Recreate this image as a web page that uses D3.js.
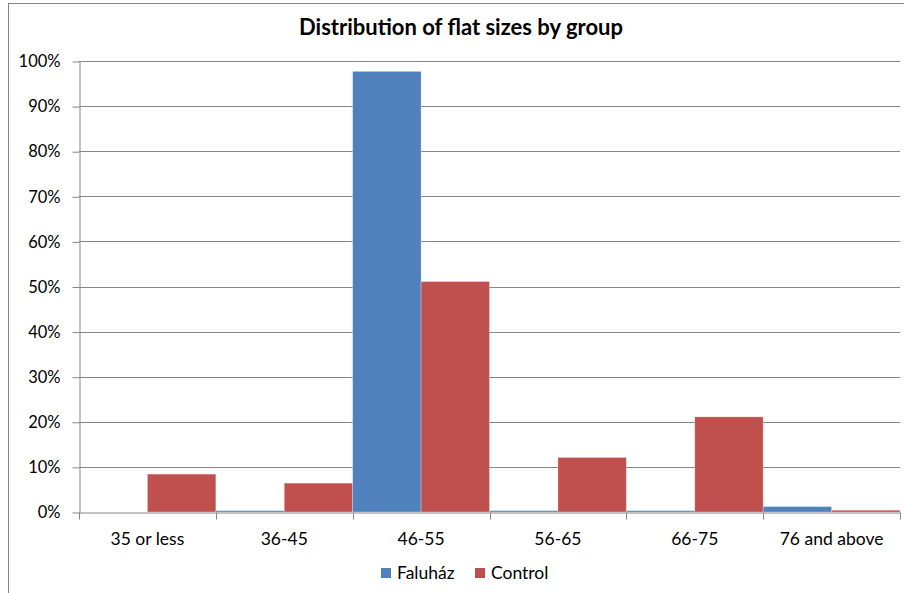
<!DOCTYPE html>
<html>
<head>
<meta charset="utf-8">
<script src="https://cdn.jsdelivr.net/npm/d3@7"></script>
<style>
  html, body { margin: 0; padding: 0; background: #fff; }
  svg { display: block; }
  text { font-family: Lato, "Open Sans", sans-serif; fill: #000; }
</style>
</head>
<body>
<svg id="chart" width="904" height="593"></svg>
<script>
// Flat-size bands and share of flats per group
const categories = ["35 or less", "36-45", "46-55", "56-65", "66-75", "76 and above"];
const seriesNames = ["Faluház", "Control"];
const faluhaz = [0, 0.003, 0.977, 0.003, 0.003, 0.012];
const control = [0.084, 0.064, 0.511, 0.121, 0.211, 0.004];
const yTicks = [0, 0.1, 0.2, 0.3, 0.4, 0.5, 0.6, 0.7, 0.8, 0.9, 1.0];
const colors = ["#4f81bd", "#c0504d"];

const svg = d3.select("#chart");
const W = 904, H = 593;
const plot = { left: 79, right: 900, top: 61, bottom: 512 };

// Outer chart frame
svg.append("rect")
  .attr("x", 8.5).attr("y", 3.5)
  .attr("width", W + 20).attr("height", H + 20)
  .attr("fill", "#fff").attr("stroke", "#868686").attr("stroke-width", 1);

// Title
svg.append("text")
  .attr("x", 461).attr("y", 35)
  .attr("text-anchor", "middle")
  .attr("font-size", 22).attr("font-weight", "bold")
  .text("Distribution of flat sizes by group");

const x = d3.scaleBand().domain(categories).range([plot.left, plot.right]).padding(0);
const xInner = d3.scaleBand().domain(seriesNames).range([0, x.bandwidth()]).padding(0);
const y = d3.scaleLinear().domain([0, 1]).range([plot.bottom, plot.top]);

// Horizontal gridlines
svg.append("g")
  .selectAll("line")
  .data(yTicks.filter(d => d > 0))
  .join("line")
  .attr("x1", plot.left).attr("x2", plot.right)
  .attr("y1", d => Math.round(y(d)) + 0.5).attr("y2", d => Math.round(y(d)) + 0.5)
  .attr("stroke", "#868686").attr("stroke-width", 1);

// Bars
const rows = categories.map((c, i) => ({ cat: c, values: [faluhaz[i], control[i]] }));
svg.append("g")
  .selectAll("g")
  .data(rows)
  .join("g")
  .attr("transform", d => `translate(${x(d.cat)},0)`)
  .selectAll("rect")
  .data(d => d.values.map((v, j) => ({ name: seriesNames[j], v, j })))
  .join("rect")
  .attr("x", d => xInner(d.name))
  .attr("width", xInner.bandwidth())
  .attr("y", d => y(d.v))
  .attr("height", d => y(0) - y(d.v))
  .attr("fill", d => colors[d.j])
  .attr("stroke", "rgba(255,255,255,0.35)")
  .attr("stroke-width", 0.8);

// Y axis
const yAxis = d3.axisLeft(y)
  .tickValues(yTicks)
  .tickFormat(d3.format(".0%"))
  .tickSizeInner(7).tickSizeOuter(0).tickPadding(12);
const gy = svg.append("g")
  .attr("transform", `translate(${plot.left + 0.5},0.5)`)
  .call(yAxis);
gy.select(".domain").attr("stroke", "#868686");
gy.selectAll(".tick line").attr("stroke", "#868686");
gy.selectAll(".tick text").attr("font-size", 16.5).attr("font-family", "Lato, sans-serif").attr("fill", "#000");

// X axis
const xAxis = d3.axisBottom(x).tickSize(0).tickPadding(0);
const gx = svg.append("g")
  .attr("transform", `translate(0,${plot.bottom + 0.5})`)
  .call(xAxis);
gx.select(".domain").attr("stroke", "#868686");
gx.selectAll(".tick text")
  .attr("font-size", 17.5).attr("font-family", "Lato, sans-serif").attr("fill", "#000")
  .attr("dy", null).attr("y", 32);
// Category boundary tick marks
gx.append("g")
  .selectAll("line")
  .data(categories.map(c => x(c)).concat([x.range()[1]]))
  .join("line")
  .attr("x1", d => Math.round(d) + 0.5).attr("x2", d => Math.round(d) + 0.5)
  .attr("y1", 0).attr("y2", 7)
  .attr("stroke", "#868686");

// Legend
const legend = svg.append("g").attr("transform", "translate(381,568)");
const legendPos = [0, 94];
seriesNames.forEach((name, i) => {
  const g = legend.append("g").attr("transform", `translate(${legendPos[i]},0)`);
  g.append("rect").attr("width", 10).attr("height", 10).attr("fill", colors[i]);
  g.append("text").attr("x", 16).attr("y", 11).attr("font-size", 17.5).text(name);
});
</script>
</body>
</html>
